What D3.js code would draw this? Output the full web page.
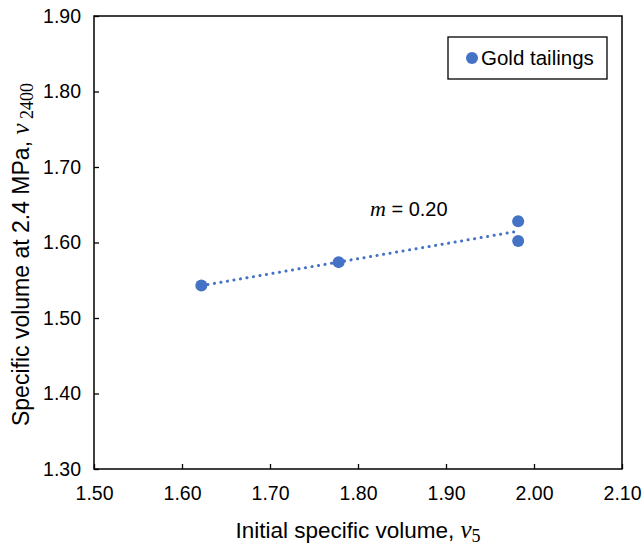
<!DOCTYPE html>
<html>
<head>
<meta charset="utf-8">
<script src="https://cdn.jsdelivr.net/npm/d3@7"></script>
<style>
  body { margin: 0; background: #fff; }
  svg text { font-family: "Liberation Sans", Arial, sans-serif; fill: #000; }
  .serif { font-family: "Liberation Serif", "Times New Roman", serif; font-style: italic; }
</style>
</head>
<body>
<svg id="chart" width="642" height="545"></svg>
<script>
// data
const initialVolume  = [1.622, 1.778, 1.982, 1.982];
const volumeAt2400   = [1.543, 1.574, 1.628, 1.602];
const xTicks = [1.50, 1.60, 1.70, 1.80, 1.90, 2.00, 2.10];
const yTicks = [1.30, 1.40, 1.50, 1.60, 1.70, 1.80, 1.90];
const seriesName = 'Gold tailings';
const slopeLabel = '0.20';

const BLUE = '#4472C4';
const margin = { left: 94, right: 20, top: 16, bottom: 76 };
const W = 642, H = 545;

const svg = d3.select('#chart');

const x = d3.scaleLinear().domain([1.5, 2.1]).range([margin.left, W - margin.right]);
const y = d3.scaleLinear().domain([1.3, 1.9]).range([H - margin.bottom, margin.top]);

// axes, ticks pointing inward
const xAxis = svg.append('g')
  .attr('transform', `translate(0,${y(1.3)})`)
  .call(d3.axisBottom(x).tickValues(xTicks).tickFormat(d3.format('.2f')).tickSizeInner(-5).tickSizeOuter(0).tickPadding(17));
const yAxis = svg.append('g')
  .attr('transform', `translate(${x(1.5)},0)`)
  .call(d3.axisLeft(y).tickValues(yTicks).tickFormat(d3.format('.2f')).tickSizeInner(-5).tickSizeOuter(0).tickPadding(13));

[xAxis, yAxis].forEach(g => {
  g.select('.domain').remove();
  g.selectAll('.tick line').attr('stroke', '#000').attr('stroke-width', 1.3);
  g.selectAll('.tick text').style('font-size', '19.5px').attr('fill', '#000');
});
xAxis.selectAll('.tick text').attr('dy', '0.71em');

// plot frame
svg.append('rect')
  .attr('x', x(1.5)).attr('y', y(1.9))
  .attr('width', x(2.1) - x(1.5)).attr('height', y(1.3) - y(1.9))
  .attr('fill', 'none').attr('stroke', '#000').attr('stroke-width', 1.5);

// linear trendline from the points
const points = initialVolume.map((v, i) => ({ x: v, y: volumeAt2400[i] }));
const mx = d3.mean(points, d => d.x), my = d3.mean(points, d => d.y);
const slope = d3.sum(points, d => (d.x - mx) * (d.y - my)) / d3.sum(points, d => (d.x - mx) ** 2);
const icpt = my - slope * mx;
const [x0, x1] = d3.extent(initialVolume);

svg.append('line')
  .attr('x1', x(x0)).attr('y1', y(icpt + slope * x0))
  .attr('x2', x(x1)).attr('y2', y(icpt + slope * x1))
  .attr('stroke', BLUE).attr('stroke-width', 3)
  .attr('stroke-dasharray', '0.1 6.5').attr('stroke-linecap', 'round');

svg.selectAll('.pt')
  .data(points)
  .enter().append('circle')
    .attr('class', 'pt')
    .attr('cx', d => x(d.x)).attr('cy', d => y(d.y))
    .attr('r', 6).attr('fill', BLUE);

// slope label
const mText = svg.append('text').attr('x', 370).attr('y', 216).style('font-size', '20px');
mText.append('tspan').attr('class', 'serif').style('font-size', '22px').text('m');
mText.append('tspan').text(' = ' + slopeLabel);

// legend
const legend = svg.append('g').attr('transform', 'translate(448,37)');
legend.append('rect').attr('width', 159).attr('height', 42)
  .attr('fill', '#fff').attr('stroke', '#000').attr('stroke-width', 1.3);
legend.append('circle').attr('cx', 24).attr('cy', 21).attr('r', 6).attr('fill', BLUE);
legend.append('text').attr('x', 33).attr('y', 28).style('font-size', '20.5px').text(seriesName);

// axis titles
const xTitle = svg.append('text')
  .attr('x', (x(1.5) + x(2.1)) / 2).attr('y', 538)
  .attr('text-anchor', 'middle').style('font-size', '22.5px');
xTitle.append('tspan').text('Initial specific volume, ');
xTitle.append('tspan').attr('class', 'serif').style('font-size', '25px').text('v');
xTitle.append('tspan').attr('class', 'serif').style('font-style', 'normal').style('font-size', '18px').attr('dy', 4).text('5');

const yTitle = svg.append('text')
  .attr('transform', `translate(29,${(y(1.3) + y(1.9)) / 2 + 12}) rotate(-90)`)
  .attr('text-anchor', 'middle').style('font-size', '23px');
yTitle.append('tspan').text('Specific volume at 2.4 MPa, ');
yTitle.append('tspan').attr('class', 'serif').style('font-size', '25px').text('v');
yTitle.append('tspan').attr('class', 'serif').style('font-style', 'normal').style('font-size', '18px').attr('dy', 4).text(' 2400');
</script>
</body>
</html>
